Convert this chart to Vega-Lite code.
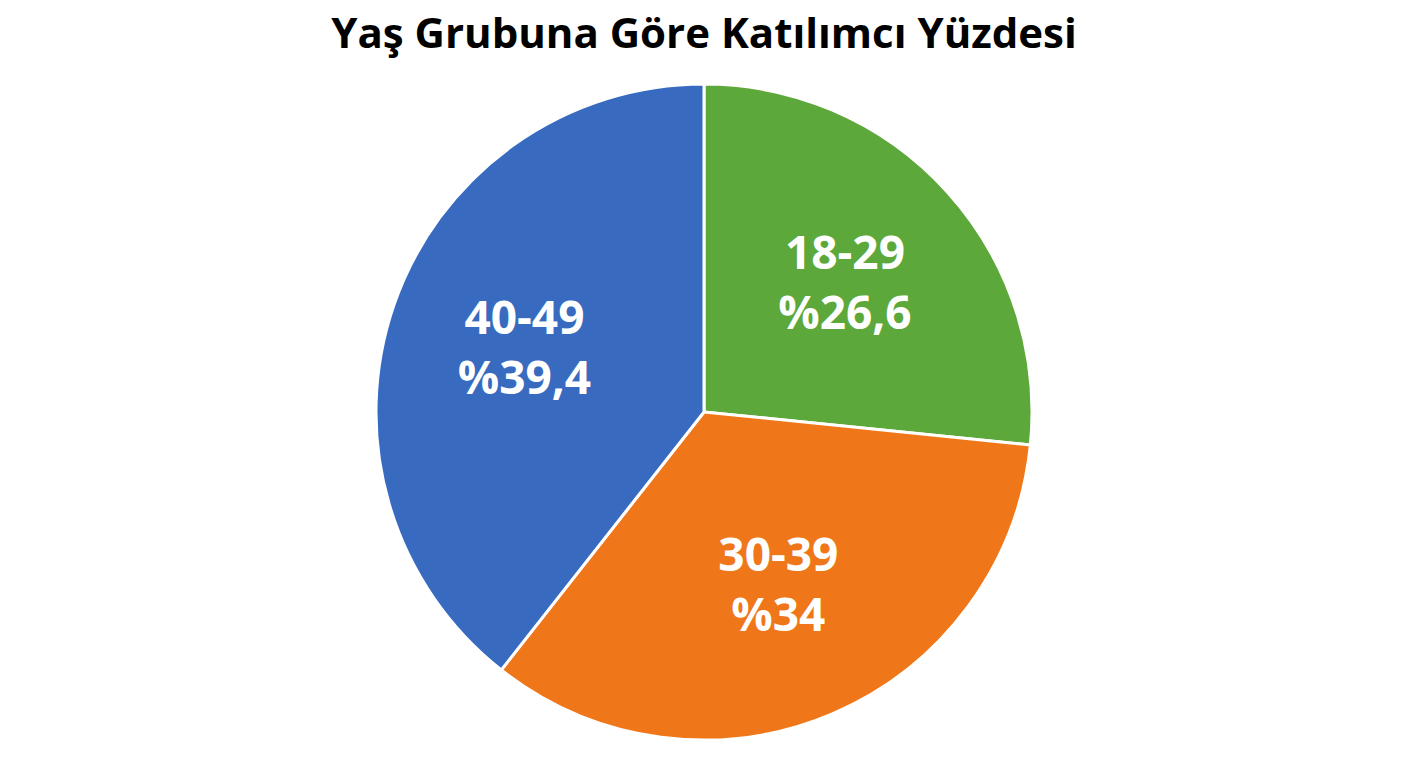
{
  "$schema": "https://vega.github.io/schema/vega-lite/v6.json",
  "description": "Yas grubuna gore katilimci yuzdesi, pasta grafik.",
  "width": 1408,
  "height": 712,
  "autosize": {"type": "none"},
  "padding": {"top": 56, "left": 0, "right": 0, "bottom": 0},
  "background": "white",
  "config": {"view": {"stroke": null}},
  "title": {
    "text": "Yaş Grubuna Göre Katılımcı Yüzdesi",
    "font": "Open Sans",
    "fontSize": 42,
    "fontWeight": "bold",
    "color": "#000000",
    "anchor": "middle",
    "baseline": "alphabetic",
    "offset": 10,
    "dy": 44
  },
  "data": {
    "values": [
      {"age": "18-29", "pct": 26.6, "label": "%26,6"},
      {"age": "30-39", "pct": 34, "label": "%34"},
      {"age": "40-49", "pct": 39.4, "label": "%39,4"}
    ]
  },
  "encoding": {
    "theta": {"field": "pct", "type": "quantitative", "stack": true},
    "order": {"field": "age", "type": "ordinal"}
  },
  "layer": [
    {
      "mark": {"type": "arc", "outerRadius": 328, "stroke": "white", "strokeWidth": 3},
      "encoding": {
        "color": {
          "field": "age",
          "type": "nominal",
          "scale": {"domain": ["18-29", "30-39", "40-49"], "range": ["#5DA83B", "#F0761A", "#386BBF"]},
          "legend": null
        }
      }
    },
    {
      "mark": {"type": "text", "radius": 190, "dy": -30, "font": "Open Sans", "fontSize": 46, "fontWeight": "bold", "fill": "white"},
      "encoding": {"text": {"field": "age"}}
    },
    {
      "mark": {"type": "text", "radius": 190, "dy": 30, "font": "Open Sans", "fontSize": 46, "fontWeight": "bold", "fill": "white"},
      "encoding": {"text": {"field": "label"}}
    }
  ]
}
